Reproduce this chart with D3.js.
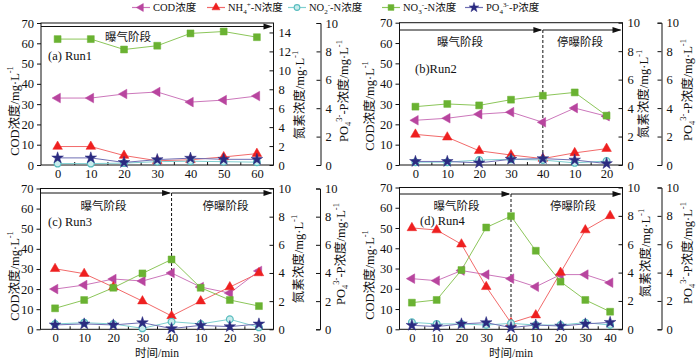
<!DOCTYPE html>
<html><head><meta charset="utf-8">
<script src="https://cdn.jsdelivr.net/npm/d3@7"></script>
<style>body{margin:0;background:#fff}svg{display:block}text{font-family:"Liberation Serif","Noto Sans CJK SC",serif;fill:#111}</style>
</head><body><svg id="c" width="700" height="358"></svg>
<script>
// ---------- data ----------
const run1Times = ["0","10","20","30","40","50","60"];
const run1COD = [33,33,35,36,31,32,34];
const run1NH4 = [1.95,1.95,1.0,0.45,0.55,0.85,1.2];
const run1NO2 = [0.15,0.15,0.2,0.35,0.4,0.35,0.3];
const run1NO3 = [13.3,13.3,12.2,12.6,13.9,14.1,13.5];
const run1PO4 = [0.5,0.5,0.18,0.38,0.48,0.4,0.4];

const run2Times = ["0","10","20","30","40","10","20"];
const run2COD = [22,23,25,26,21,28,24];
const run2NH4 = [2.15,1.95,1.0,0.7,0.45,0.85,1.15];
const run2NO2 = [0.2,0.2,0.35,0.4,0.35,0.15,0.28];
const run2NO3 = [4.1,4.29,4.19,4.59,4.87,5.1,3.47];
const run2PO4 = [0.25,0.25,0.15,0.4,0.45,0.35,0.1];

const run3Times = ["0","10","20","30","40","10","20","30"];
const run3COD = [20,22,25,24,28,21,18,29];
const run3NH4 = [4.3,3.95,3.0,2.0,0.95,2.0,3.0,4.0];
const run3NO2 = [0.38,0.47,0.38,0.07,0.54,0.38,0.71,0.14];
const run3NO3 = [1.49,2.08,2.95,3.97,4.96,2.95,2.08,1.65];
const run3PO4 = [0.31,0.38,0.31,0.47,0.05,0.28,0.19,0.38];

const run4Times = ["0","10","20","30","40","10","20","30","40"];
const run4COD = [25,24,29,27,25,21,27,27,23];
const run4NH4 = [7.15,7.0,6.0,3.0,0.45,1.0,4.0,7.0,8.0];
const run4NO2 = [0.49,0.38,0.38,0.3,0.42,0.3,0.3,0.47,0.3];
const run4NO3 = [1.88,2.07,4.18,7.18,7.98,5.54,3.36,2.07,1.24];
const run4PO4 = [0.28,0.19,0.38,0.47,0.12,0.3,0.23,0.38,0.49];

const codTicks = [0,10,20,30,40,50,60,70];
const n15Ticks = [0,2,4,6,8,10,12,14];
const n10Ticks = [0,2,4,6,8,10];
const pTicks = [0,2,4,6,8,10];

// ---------- styles ----------
const S = {
  cod:{line:"#cc77bb", fill:"#b8459f", stroke:"#b8459f", shape:"ltri", size:40},
  nh4:{line:"#f26a6a", fill:"#ee2020", stroke:"#ee2020", shape:"tri", size:40},
  no2:{line:"#7fcfd0", fill:"#c8ecec", stroke:"#58bcbe", shape:"circ", size:36},
  no3:{line:"#8cc65a", fill:"#6ab232", stroke:"#6ab232", shape:"sq", size:48},
  po4:{line:"#6f6fb4", fill:"#2b2b80", stroke:"#2b2b80", shape:"star", size:42}
};
function sym(shape, size){
  const t = {ltri:d3.symbolTriangle, tri:d3.symbolTriangle, circ:d3.symbolCircle, sq:d3.symbolSquare, star:d3.symbolStar}[shape];
  return d3.symbol().type(t).size(size)();
}

const svg = d3.select("#c");
const FS = 12.5;

function rich(sel, parts, fs){
  let cur = 0;
  parts.forEach(p=>{
    const txt = Array.isArray(p)?p[0]:p, type = Array.isArray(p)?p[1]:null;
    const target = type==="sub"? fs*0.3 : type==="sup"? -fs*0.42 : 0;
    const ts = sel.append("tspan").text(txt).attr("dy", target-cur);
    if(type) ts.attr("font-size", fs*0.68);
    cur = target;
  });
}

const panels = [
 {t:run1Times,cod:run1COD,nh4:run1NH4,no2:run1NO2,no3:run1NO3,po4:run1PO4,
  x0:41,x1:273.5,top:23,bottom:165,ax3:320.5,nMax:15,nT:n15Ticks,arrowY:26.5,split:null,
  label:"(a) Run1",lx:48,ly:60,phases:[["曝气阶段",128,41]],codT:[15,111],nTi:[300,95],pTi:[344,91],xT:null},
 {t:run2Times,cod:run2COD,nh4:run2NH4,no2:run2NO2,no3:run2NO3,po4:run2PO4,
  x0:399.5,x1:622.5,top:22.7,bottom:165,ax3:661.5,nMax:10,nT:n10Ticks,arrowY:30,split:4,
  label:"(b)Run2",lx:415,ly:73,phases:[["曝气阶段",460,46],["停曝阶段",580,46]],codT:[370,106],nTi:[644,94],pTi:[688,90],xT:null},
 {t:run3Times,cod:run3COD,nh4:run3NH4,no2:run3NO2,no3:run3NO3,po4:run3PO4,
  x0:40.5,x1:273.5,top:188.5,bottom:329.3,ax3:320,nMax:10,nT:n10Ticks,arrowY:193,split:4,
  label:"(c) Run3",lx:48,ly:226,phases:[["曝气阶段",103.5,210],["停曝阶段",225.5,210]],codT:[15,276],nTi:[299,259],pTi:[341,254],xT:[157,356.5]},
 {t:run4Times,cod:run4COD,nh4:run4NH4,no2:run4NO2,no3:run4NO3,po4:run4PO4,
  x0:399.5,x1:622.5,top:187.5,bottom:329.3,ax3:661.5,nMax:10,nT:n10Ticks,arrowY:194,split:4,
  label:"(d) Run4",lx:420,ly:225,phases:[["曝气阶段",456.5,210],["停曝阶段",573,210]],codT:[370,275],nTi:[646,253],pTi:[688,253],xT:[511,356.5]}
];

const codTitle = ["COD浓度/mg·L",["-1","sup"]];
const nTitle = ["氮素浓度/mg·L",["-1","sup"]];
const pTitle = ["PO",["4","sub"],["3-","sup"],"-P浓度/mg·L",["-1","sup"]];

panels.forEach(P=>{
  const n = P.t.length;
  const idx = d3.range(n);
  const x = d3.scalePoint().domain(idx).range([P.x0,P.x1]).padding(0.5);
  const xl = d3.scaleLinear().domain([-0.5,n-0.5]).range([P.x0,P.x1]);
  const yC = d3.scaleLinear().domain([0,70]).range([P.bottom,P.top]);
  const yN = d3.scaleLinear().domain([0,P.nMax]).range([P.bottom,P.top]);
  const yP = d3.scaleLinear().domain([0,10]).range([P.bottom,P.top]);
  const g = svg.append("g");

  g.append("rect").attr("x",P.x0).attr("y",P.top).attr("width",P.x1-P.x0).attr("height",P.bottom-P.top)
    .attr("fill","none").attr("stroke","#111").attr("stroke-width",1);

  const la = g.append("g").attr("transform",`translate(${P.x0},0)`)
    .call(d3.axisLeft(yC).tickValues(codTicks).tickSize(4).tickPadding(3));
  const ra = g.append("g").attr("transform",`translate(${P.x1},0)`)
    .call(d3.axisRight(yN).tickValues(P.nT).tickSize(-4).tickPadding(5));
  const pa = g.append("g").attr("transform",`translate(${P.ax3},0)`)
    .call(d3.axisRight(yP).tickValues(pTicks).tickSizeInner(-4).tickSizeOuter(-4).tickPadding(5));
  const ba = g.append("g").attr("transform",`translate(0,${P.bottom})`)
    .call(d3.axisBottom(x).tickFormat(i=>P.t[i]).tickSize(0).tickPadding(4));
  const ma = g.append("g").attr("transform",`translate(0,${P.bottom})`)
    .call(d3.axisTop(xl).tickValues(d3.range(n-1).map(i=>i+0.5)).tickSize(3).tickFormat(""));
  [la,ra,ba,ma].forEach(a=>a.select(".domain").remove());
  [la,ra,pa,ba,ma].forEach(a=>{
    a.selectAll("text").attr("font-size",FS).attr("font-family",'"Liberation Serif",serif').attr("fill","#111");
    a.selectAll("line").attr("stroke","#111");
    a.select(".domain").attr("stroke","#111");
  });

  const arrowHead = (xt,y)=> g.append("path").attr("d",`M${xt},${y}L${xt-9},${y-3}L${xt-9},${y+3}Z`).attr("fill","#111");
  if(P.split===null){
    g.append("line").attr("x1",P.x0).attr("x2",P.x1-2).attr("y1",P.arrowY).attr("y2",P.arrowY).attr("stroke","#111");
    arrowHead(P.x1-1,P.arrowY);
  } else {
    const xs = x(P.split);
    g.append("line").attr("x1",P.x0).attr("x2",xs-2).attr("y1",P.arrowY).attr("y2",P.arrowY).attr("stroke","#111");
    arrowHead(xs-0.5,P.arrowY);
    g.append("line").attr("x1",xs).attr("x2",P.x1-2).attr("y1",P.arrowY).attr("y2",P.arrowY).attr("stroke","#111");
    arrowHead(P.x1-1,P.arrowY);
    g.append("line").attr("x1",xs).attr("x2",xs).attr("y1",P.arrowY).attr("y2",P.bottom)
      .attr("stroke","#111").attr("stroke-dasharray","3,2");
  }
  P.phases.forEach(ph=>{
    g.append("text").attr("x",ph[1]).attr("y",ph[2]).attr("text-anchor","middle").attr("font-size",11.5).text(ph[0]);
  });
  g.append("text").attr("x",P.lx).attr("y",P.ly).attr("font-size",FS).text(P.label);

  const series = [
    ["cod",P.cod,yC],["nh4",P.nh4,yN],["no3",P.no3,yN],["no2",P.no2,yN],["po4",P.po4,yP]
  ];
  series.forEach(([k,vals,ys])=>{
    const st = S[k];
    g.append("path").datum(vals).attr("fill","none").attr("stroke",st.line).attr("stroke-width",1)
      .attr("d",d3.line().x((d,i)=>x(i)).y(d=>ys(d)));
  });
  series.forEach(([k,vals,ys])=>{
    const st = S[k];
    g.selectAll(null).data(vals).enter().append("path")
      .attr("d",sym(st.shape,st.size))
      .attr("transform",(d,i)=>`translate(${x(i)},${ys(d)})${st.shape==="ltri"?" rotate(-90)":""}`)
      .attr("fill",st.fill).attr("stroke",st.stroke).attr("stroke-width",st.shape==="circ"?1.2:0.5);
  });

  const rt = (pos,parts)=>{
    const t = g.append("text").attr("transform",`translate(${pos[0]},${pos[1]}) rotate(-90)`)
      .attr("text-anchor","middle").attr("dominant-baseline","central").attr("font-size",FS);
    rich(t,parts,FS);
  };
  rt(P.codT,codTitle); rt(P.nTi,nTitle); rt(P.pTi,pTitle);
  if(P.xT) g.append("text").attr("x",P.xT[0]).attr("y",P.xT[1]).attr("text-anchor","middle").attr("font-size",11.5).text("时间/min");
});

// legend
const LFS = 10.5;
const legend = [
  ["cod",["COD浓度"],132],
  ["nh4",["NH",["4","sub"],["+","sup"],"-N浓度"],207],
  ["no2",["NO",["2","sub"],["-","sup"],"-N浓度"],288],
  ["no3",["NO",["3","sub"],["-","sup"],"-N浓度"],382],
  ["po4",["PO",["4","sub"],["3-","sup"],"-P浓度"],465]
];
const lg = svg.append("g");
const LY = 7.5;
legend.forEach(([k,parts,lx])=>{
  const st = S[k];
  lg.append("line").attr("x1",lx).attr("x2",lx+18).attr("y1",LY).attr("y2",LY).attr("stroke",st.line).attr("stroke-width",1.2);
  lg.append("path").attr("d",sym(st.shape,st.size*0.7))
    .attr("transform",`translate(${lx+9},${LY})${st.shape==="ltri"?" rotate(-90)":""}`)
    .attr("fill",st.fill).attr("stroke",st.stroke).attr("stroke-width",st.shape==="circ"?1.1:0.5);
  const t = lg.append("text").attr("x",lx+21).attr("y",LY+3.8).attr("font-size",LFS);
  rich(t,parts,LFS);
});
</script></body></html>
